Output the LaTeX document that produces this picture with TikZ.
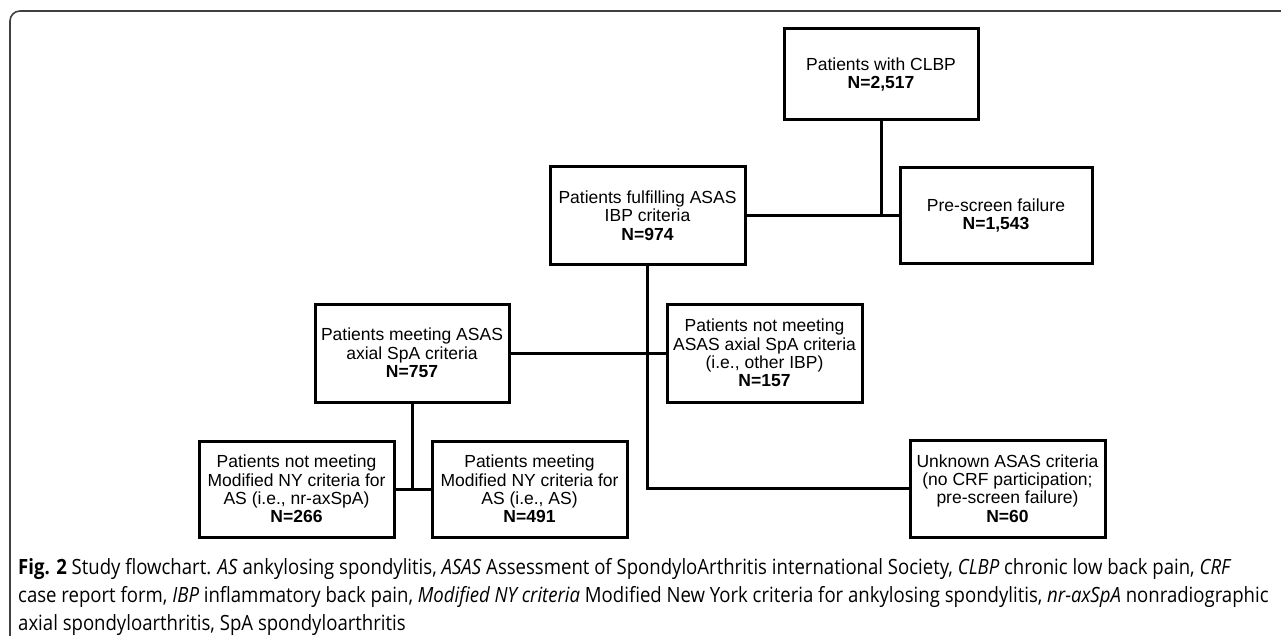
\documentclass[tikz,border=0pt]{standalone}
\usepackage{fontspec}
\setmainfont{Liberation Sans}
\newfontfamily\capfont[FakeStretch=0.884]{Open Sans}
\begin{document}
\begin{tikzpicture}[x=1pt,y=-1pt,
  box/.style={draw=black, line width=3pt, align=center, inner sep=0pt,
    font=\fontsize{17.5}{18.3}\selectfont},
  conn/.style={line width=3pt},
  capline/.style={anchor=base west, inner sep=0pt, font=\capfont\fontsize{21}{28}\selectfont}]
\useasboundingbox (0,0) rectangle (1281,636);
\begin{scope}
\clip (0,0) rectangle (1281,636);
\draw[draw=black!75, line width=1.6pt, rounded corners=10pt] (10,11) rectangle (1300,660);
\end{scope}
\node[box, minimum width=194pt, minimum height=91pt] (clbp) at (881,74.5) {Patients with CLBP\\\textbf{N=2,517}};
\node[box, minimum width=195pt, minimum height=97pt] (ibp) at (647.5,215.5) {Patients fulfilling ASAS\\IBP criteria\\\textbf{N=974}};
\node[box, minimum width=192pt, minimum height=95pt] (pre) at (996,215.5) {Pre-screen failure\\\textbf{N=1,543}};
\node[box, minimum width=194pt, minimum height=98pt] (axial) at (412,353) {Patients meeting ASAS\\axial SpA criteria\\\textbf{N=757}};
\node[box, minimum width=195pt, minimum height=98pt] (other) at (764.5,353) {Patients not meeting\\ASAS axial SpA criteria\\(i.e., other IBP)\\\textbf{N=157}};
\node[box, minimum width=195pt, minimum height=96pt] (nr) at (296.5,489) {Patients not meeting\\Modified NY criteria for\\AS (i.e., nr-axSpA)\\\textbf{N=266}};
\node[box, minimum width=195pt, minimum height=96pt] (as) at (529.5,489) {Patients meeting\\Modified NY criteria for\\AS (i.e., AS)\\\textbf{N=491}};
\node[box, minimum width=195pt, minimum height=97pt] (unk) at (1007.5,488.5) {Unknown ASAS criteria\\(no CRF participation;\\pre-screen failure)\\\textbf{N=60}};
\coordinate (j1) at (clbp.south |- ibp.east);
\coordinate (j2) at (ibp.south |- unk.west);
\coordinate (j3) at (axial.south |- nr.east);
\draw[conn] (ibp.east) -- (pre.west);
\draw[conn] (clbp.south) -- (j1);
\draw[conn] (axial.east) -- (other.west);
\draw[conn] (ibp.south) -- (j2) -- (unk.west);
\draw[conn] (nr.east) -- (as.west);
\draw[conn] (axial.south) -- (j3);
\node[capline] (cap1) at (18,574) {\textbf{Fig. 2} Study flowchart. \textit{AS} ankylosing spondylitis, \textit{ASAS} Assessment of SpondyloArthritis international Society, \textit{CLBP} chronic low back pain, \textit{CRF}};
\node[capline] (cap2) at (18,602) {case report form, \textit{IBP} inflammatory back pain, \textit{Modified NY criteria} Modified New York criteria for ankylosing spondylitis, \textit{nr-axSpA} nonradiographic};
\node[capline] (cap3) at (18,630) {axial spondyloarthritis, SpA spondyloarthritis};
\end{tikzpicture}
\end{document}
